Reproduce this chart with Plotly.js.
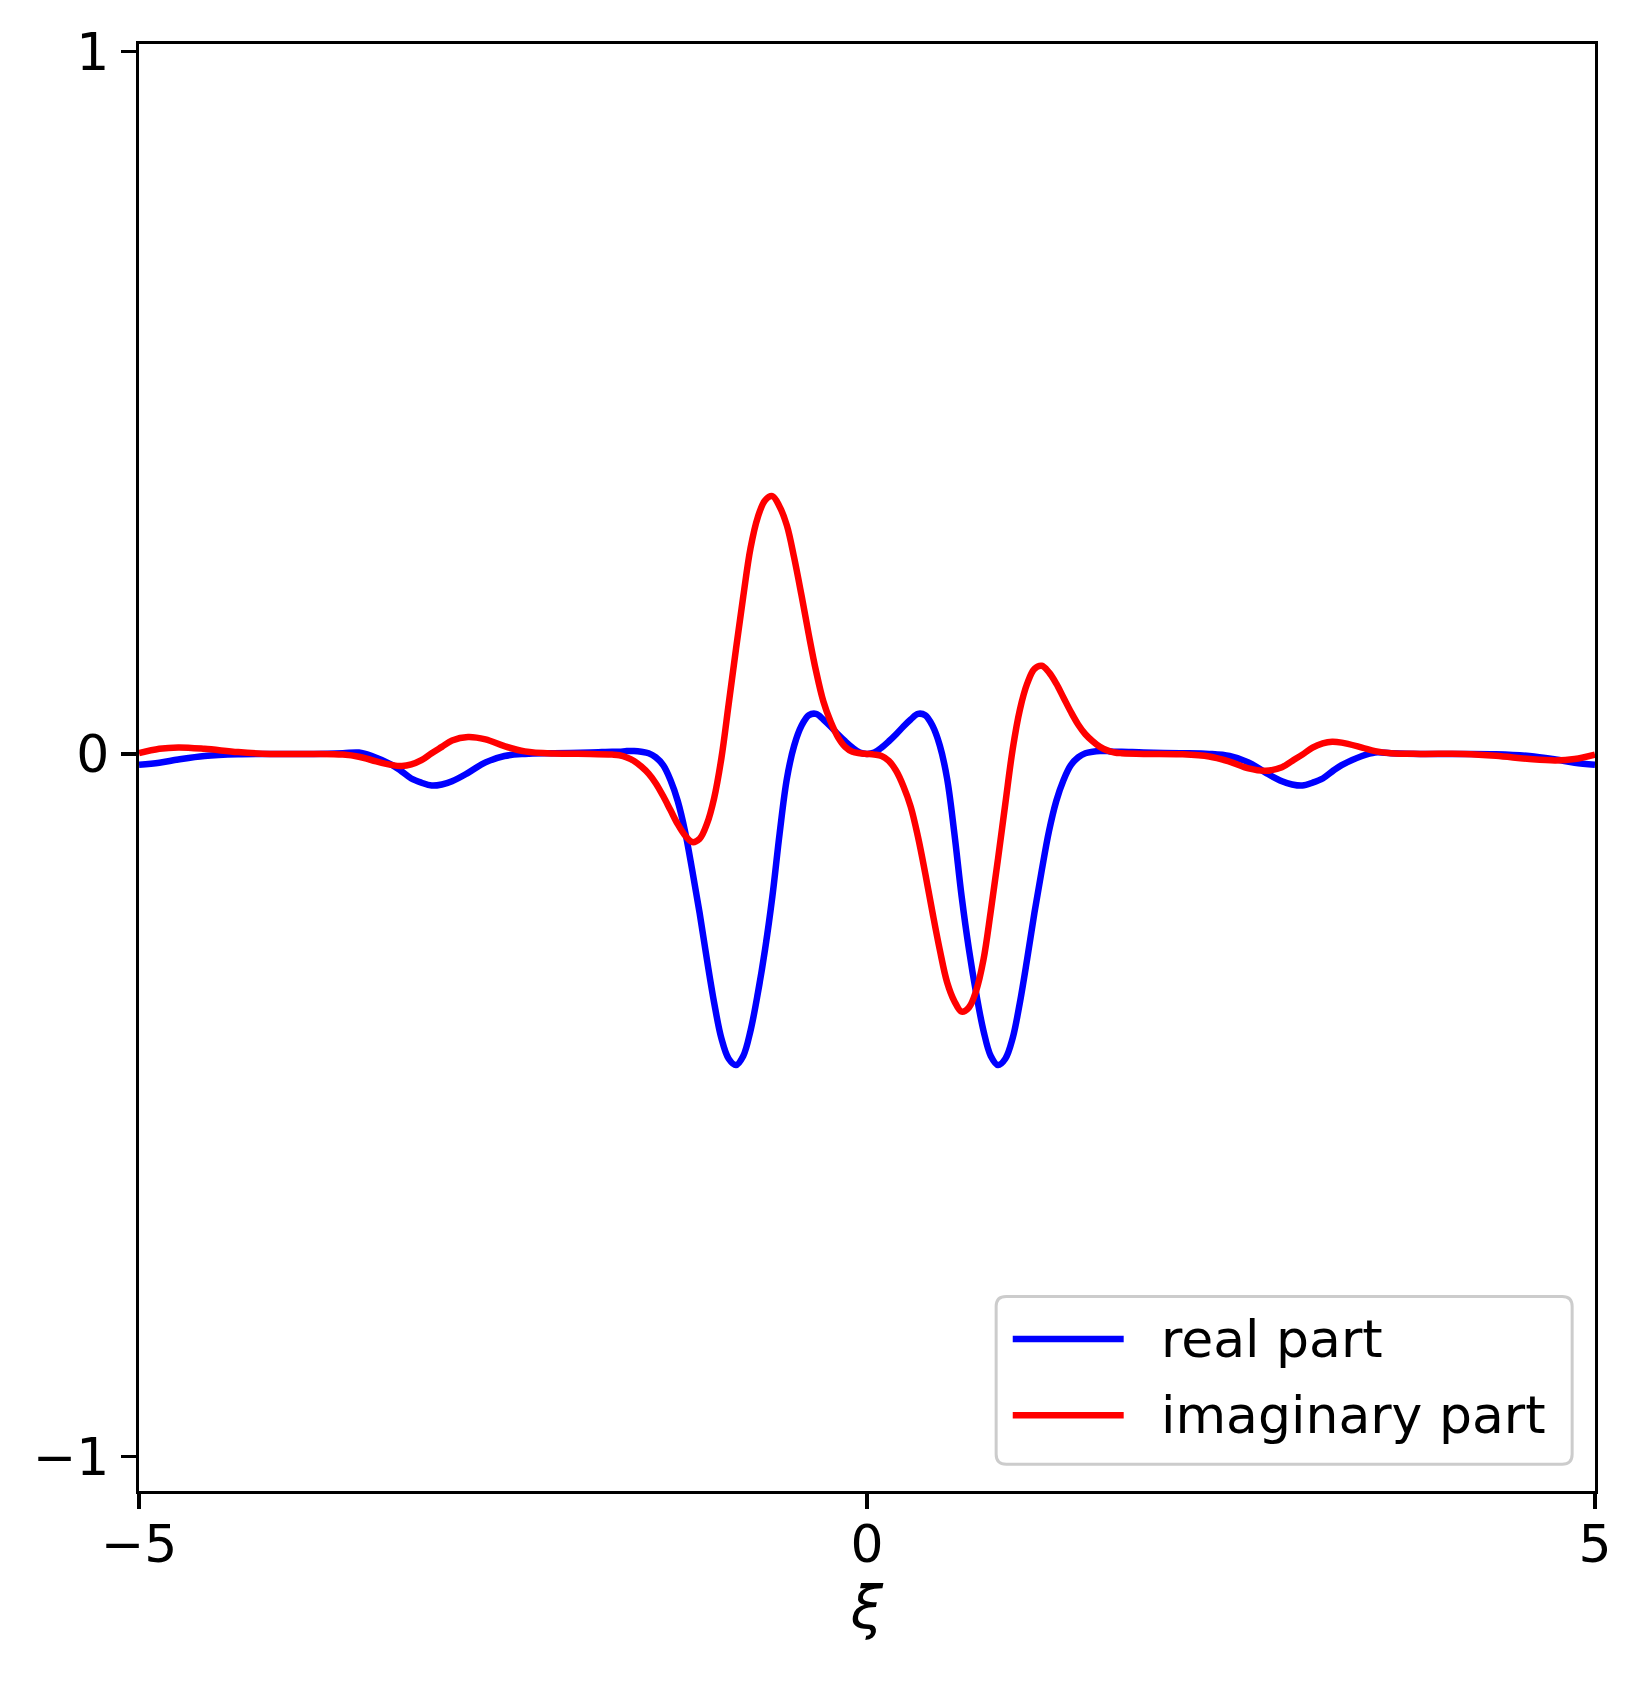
<!DOCTYPE html>
<html>
<head>
<meta charset="utf-8">
<script src="https://cdn.plot.ly/plotly-3.0.1.min.js"></script>
<style>
  html, body { margin: 0; padding: 0; background: #ffffff; }
  #chart { width: 1643px; height: 1682px; }
</style>
</head>
<body>
<div id="chart"></div>
<script>
// xi values (horizontal axis)
const xi = [
  -5.0, -4.86, -4.73, -4.55, -4.32, -4.1, -3.8, -3.6, -3.49, -3.40, -3.26, -3.195, -3.13, -3.06, -2.99, -2.92, -2.85, -2.74, -2.62, -2.49, -2.35, -2.15, -1.9,
  -1.75, -1.70, -1.65, -1.60, -1.55, -1.50, -1.45, -1.40, -1.35, -1.30, -1.25, -1.20, -1.15, -1.10, -1.05, -1.00, -0.95, -0.90, -0.85, -0.80, -0.75, -0.70, -0.65, -0.60, -0.55, -0.50, -0.45, -0.40, -0.35, -0.30, -0.25, -0.20, -0.15, -0.10, -0.05,
  0,
  0.05, 0.10, 0.15, 0.20, 0.25, 0.30, 0.35, 0.40, 0.45, 0.50, 0.55, 0.60, 0.65, 0.70, 0.75, 0.80, 0.85, 0.90, 0.95, 1.00, 1.05, 1.10, 1.15, 1.20, 1.25, 1.30, 1.35, 1.40, 1.45, 1.50, 1.55, 1.60, 1.65, 1.70, 1.75,
  1.9, 2.15, 2.35, 2.49, 2.62, 2.74, 2.85, 2.92, 2.99, 3.06, 3.13, 3.195, 3.26, 3.40, 3.49, 3.6, 3.8, 4.1, 4.32, 4.55, 4.73, 4.86, 5.0
];

// real part (blue)
const realPart = [
  -0.0154, -0.0125, -0.008, -0.003, -0.0005, 0, 0, 0.001, 0.002, -0.003, -0.016, -0.025, -0.035, -0.041, -0.045, -0.0435, -0.039, -0.027, -0.012, -0.003, 0, 0.001, 0.002,
  0.003, 0.003, 0.004, 0.004, 0.003, 0.001, -0.005, -0.016, -0.037, -0.067, -0.110, -0.166, -0.226, -0.292, -0.354, -0.405, -0.434, -0.443, -0.430, -0.394, -0.341, -0.278, -0.203, -0.113, -0.035, 0.012, 0.040, 0.055, 0.057, 0.049, 0.039, 0.028, 0.018, 0.009, 0.002,
  0,
  0.002, 0.009, 0.018, 0.028, 0.039, 0.049, 0.057, 0.055, 0.040, 0.012, -0.035, -0.113, -0.203, -0.278, -0.341, -0.394, -0.430, -0.443, -0.434, -0.405, -0.354, -0.292, -0.226, -0.166, -0.110, -0.067, -0.037, -0.016, -0.005, 0.001, 0.003, 0.004, 0.004, 0.003, 0.003,
  0.002, 0.001, 0, -0.003, -0.012, -0.027, -0.039, -0.0435, -0.045, -0.041, -0.035, -0.025, -0.016, -0.003, 0.002, 0.001, 0, 0, -0.0005, -0.003, -0.008, -0.0125, -0.0154
];

// imaginary part (red)
const imagPart = [
  0.001, 0.0073, 0.0093, 0.0073, 0.0026, 0, 0, -0.001, -0.004, -0.009, -0.016, -0.0173, -0.015, -0.009, 0.001, 0.01, 0.019, 0.024, 0.0206, 0.011, 0.0036, 0.0005, 0,
  -0.001, -0.002, -0.005, -0.010, -0.018, -0.028, -0.042, -0.060, -0.080, -0.100, -0.116, -0.1255, -0.121, -0.100, -0.063, -0.006, 0.071, 0.149, 0.224, 0.293, 0.337, 0.361, 0.367, 0.352, 0.325, 0.279, 0.226, 0.170, 0.118, 0.075, 0.046, 0.024, 0.010, 0.003, 0.001,
  0,
  -0.001, -0.003, -0.010, -0.024, -0.046, -0.075, -0.118, -0.170, -0.226, -0.279, -0.325, -0.352, -0.367, -0.361, -0.337, -0.293, -0.224, -0.149, -0.071, 0.006, 0.063, 0.100, 0.121, 0.1255, 0.116, 0.100, 0.080, 0.060, 0.042, 0.028, 0.018, 0.010, 0.005, 0.002, 0.001,
  0, -0.0005, -0.0036, -0.011, -0.0206, -0.024, -0.019, -0.01, -0.001, 0.009, 0.015, 0.0173, 0.016, 0.009, 0.004, 0.001, 0, 0, -0.0026, -0.0073, -0.0093, -0.0073, -0.001
];

const seriesNames = ["real part", "imaginary part"];
const seriesColors = ["#0000ff", "#ff0000"];
const xTicks = [-5, 0, 5];
const yTicks = [-1, 0, 1];

const FONT = "DejaVu Sans, Liberation Sans, sans-serif";
const fmt = v => v < 0 ? "\u2212" + Math.abs(v) : String(v);

const traces = [
  {
    x: xi, y: realPart, name: seriesNames[0], type: "scatter", mode: "lines",
    line: { color: seriesColors[0], width: 6.5, shape: "spline", smoothing: 1.0 }
  },
  {
    x: xi, y: imagPart, name: seriesNames[1], type: "scatter", mode: "lines",
    line: { color: seriesColors[1], width: 6.5, shape: "spline", smoothing: 1.0 }
  }
];

// legend drawn in paper coordinates (matplotlib style box)
const lg = { x0: 0.5887, x1: 0.9843, y0: 0.0185, y1: 0.1345, r: 0.0069,
             lx0: 0.6001, lx1: 0.6763, tx: 0.7007, rows: [0.1050, 0.0523] };
const boxPath =
  `M ${lg.x0 + lg.r},${lg.y0} L ${lg.x1 - lg.r},${lg.y0} Q ${lg.x1},${lg.y0} ${lg.x1},${lg.y0 + lg.r} ` +
  `L ${lg.x1},${lg.y1 - lg.r} Q ${lg.x1},${lg.y1} ${lg.x1 - lg.r},${lg.y1} ` +
  `L ${lg.x0 + lg.r},${lg.y1} Q ${lg.x0},${lg.y1} ${lg.x0},${lg.y1 - lg.r} ` +
  `L ${lg.x0},${lg.y0 + lg.r} Q ${lg.x0},${lg.y0} ${lg.x0 + lg.r},${lg.y0} Z`;

const shapes = [
  { type: "path", xref: "paper", yref: "paper", path: boxPath, layer: "above",
    fillcolor: "rgba(255,255,255,0.8)", line: { color: "#cccccc", width: 3 } }
];
const annotations = [];
seriesNames.forEach((name, i) => {
  shapes.push({ type: "line", xref: "paper", yref: "paper", layer: "above",
    x0: lg.lx0, x1: lg.lx1, y0: lg.rows[i], y1: lg.rows[i],
    line: { color: seriesColors[i], width: 6.5 } });
  annotations.push({ xref: "paper", yref: "paper", x: lg.tx, y: lg.rows[i],
    xanchor: "left", yanchor: "middle", showarrow: false, text: name,
    font: { family: FONT, size: 52, color: "#000000" } });
});

const axisCommon = {
  showgrid: false, zeroline: false,
  showline: true, linecolor: "#000000", linewidth: 3.3, mirror: true,
  ticks: "outside", ticklen: 15, tickwidth: 3.3, tickcolor: "#000000",
  tickfont: { family: FONT, size: 52, color: "#000000" },
  automargin: false
};

const layout = {
  width: 1643, height: 1682,
  paper_bgcolor: "#ffffff", plot_bgcolor: "#ffffff",
  margin: { l: 138.5, r: 48, t: 43.5, b: 191.3, pad: 0 },
  showlegend: false,
  shapes: shapes,
  annotations: annotations,
  xaxis: Object.assign({}, axisCommon, {
    range: [-5, 5], tickvals: xTicks, ticktext: xTicks.map(fmt),
    ticklabelstandoff: -10,
    title: { text: "<i>ξ</i>", font: { family: FONT, size: 58, color: "#000000" }, standoff: 14 }
  }),
  yaxis: Object.assign({}, axisCommon, {
    range: [-1.0494, 1.0107], tickvals: yTicks, ticktext: yTicks.map(fmt),
    ticklabelstandoff: 1
  })
};

Plotly.newPlot("chart", traces, layout, { staticPlot: true, displayModeBar: false });
</script>
</body>
</html>
